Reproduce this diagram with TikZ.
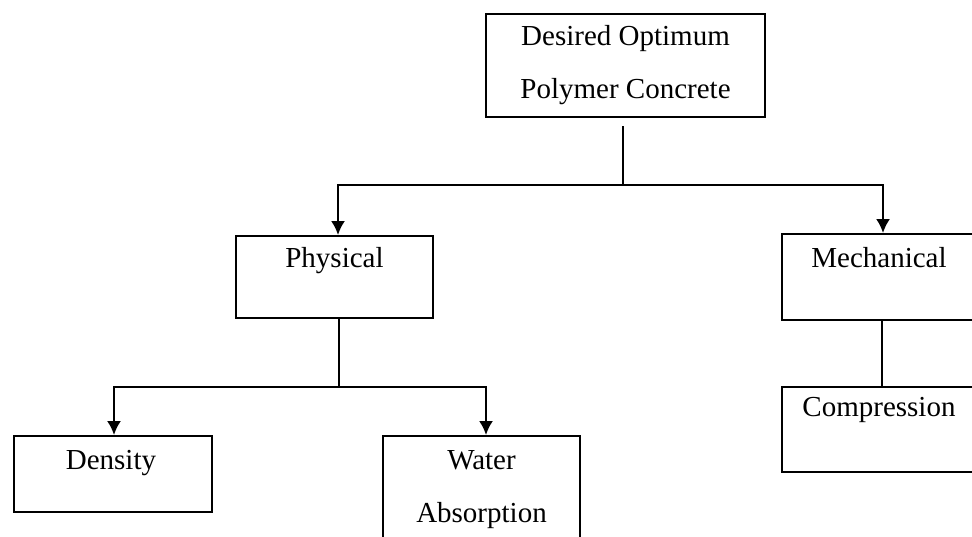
\documentclass[tikz,border=0pt]{standalone}
\usepackage{fontspec}
\setmainfont{Liberation Serif}
\usetikzlibrary{arrows.meta}

\begin{document}
\begin{tikzpicture}[x = 0.5pt, y = -0.5pt,
    scatola/.style = {draw, line width = 1pt, inner sep = 0pt, anchor = north west},
    testo/.style = {font = \fontsize{14.5}{26.5}\selectfont, align = center, inner sep = 0pt},
    linea/.style = {line width = 1pt},
    freccia/.style = {line width = 1pt, -{Latex[length = 7pt, width = 7pt]}}]
    % Cornice
    \useasboundingbox (0,0) rectangle (972,536);
    % Scatole
    \node[scatola, testo, minimum width = 139.5pt, minimum height = 51.5pt] (principale) at (485,13) {Desired Optimum\\Polymer Concrete};
    \node[scatola, minimum width = 98.5pt, minimum height = 41pt, label = {[testo, name = tfisico, yshift = 8pt]center:Physical}] (fisico) at (235,235) {};
    \node[scatola, minimum width = 97pt, minimum height = 43pt, label = {[testo, name = tmeccanico, yshift = 9.5pt]center:Mechanical}] (meccanico) at (781,233) {};
    \node[scatola, minimum width = 99pt, minimum height = 38pt, label = {[testo, name = tdensita, xshift = -1pt, yshift = 5.5pt]center:Density}] (densita) at (13,435) {};
    \node[scatola, minimum width = 98.5pt, minimum height = 67.5pt, label = {[testo, name = tacqua, yshift = 7pt]center:Water\\Absorption}] (acqua) at (382,435) {};
    \node[scatola, minimum width = 97pt, minimum height = 42.5pt, label = {[testo, name = tcompressione, yshift = 9.75pt]center:Compression}] (compressione) at (781,386) {};
    % Diramazioni
    \coordinate (nodo1) at (623,185);
    \coordinate (nodo2) at (339,387);
    % Frecce
    \draw[linea, shorten <= 4pt] (nodo1 |- principale.south) -- (nodo1);
    \draw[freccia] (nodo1) -| ([xshift = 1.75pt]fisico.north);
    \draw[freccia] (nodo1) -| ([xshift = 2pt]meccanico.north);
    \draw[linea] (nodo2 |- fisico.south) -- (nodo2);
    \draw[freccia] (nodo2) -| ([xshift = 0.5pt]densita.north);
    \draw[freccia] (nodo2) -| ([xshift = 2.25pt]acqua.north);
    \draw[linea] ([xshift = 1.5pt]meccanico.south) -- ([xshift = 1.5pt]compressione.north);
\end{tikzpicture}
\end{document}
